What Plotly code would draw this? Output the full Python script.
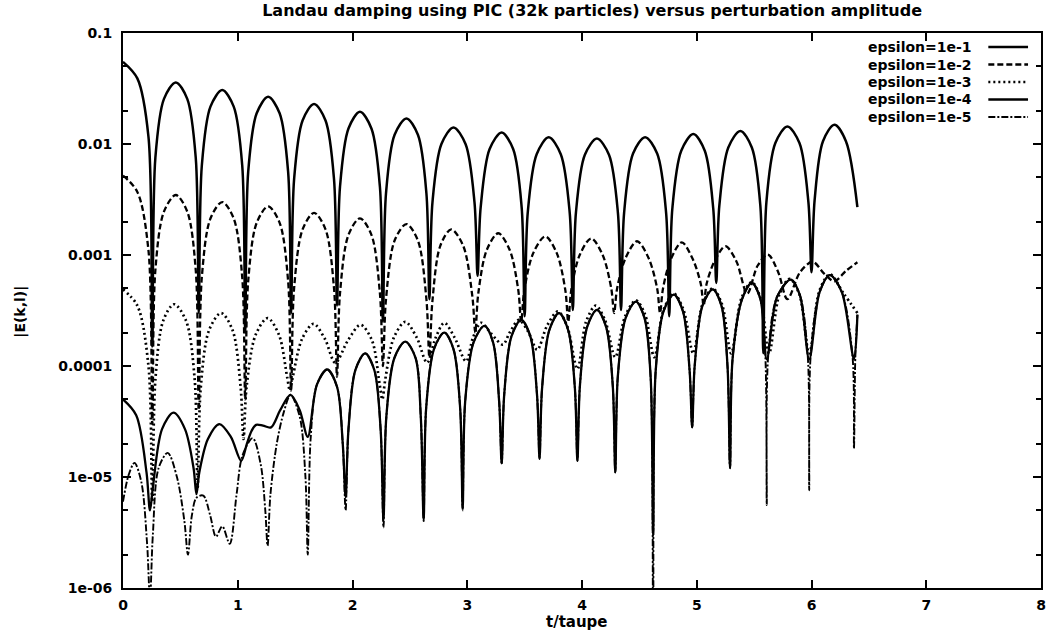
import plotly.graph_objects as go

# ---- |E(k,l)| versus t/taupe for each perturbation amplitude ----

# epsilon = 1e-1
t_e1 = [0.00, 0.125, 0.222, 0.255,
        0.282, 0.357, 0.46, 0.56, 0.634, 0.66,
        0.687, 0.762, 0.865, 0.965, 1.039, 1.065,
        1.091, 1.165, 1.265, 1.365, 1.439, 1.465,
        1.491, 1.565, 1.665, 1.765, 1.839, 1.865,
        1.891, 1.965, 2.065, 2.165, 2.239, 2.265,
        2.292, 2.367, 2.47, 2.57, 2.644, 2.67,
        2.697, 2.775, 2.88, 2.985, 3.063, 3.09,
        3.117, 3.195, 3.30, 3.40, 3.474, 3.50,
        3.527, 3.605, 3.71, 3.815, 3.893, 3.92,
        3.947, 4.025, 4.13, 4.235, 4.313, 4.34,
        4.367, 4.445, 4.55, 4.655, 4.733, 4.76,
        4.787, 4.865, 4.97, 5.07, 5.144, 5.17,
        5.197, 5.275, 5.38, 5.48, 5.554, 5.58,
        5.607, 5.685, 5.79, 5.895, 5.973, 6.00,
        6.027, 6.10, 6.20, 6.30, 6.40]
e_e1 = [0.055, 0.039, 0.0116, 1.5e-4,
        0.0075, 0.0255, 0.0359, 0.0255, 0.0075, 3e-4,
        0.0064, 0.0217, 0.0306, 0.0217, 0.0064, 2e-4,
        0.0056, 0.0189, 0.0266, 0.0189, 0.0056, 3e-4,
        0.0048, 0.0163, 0.0229, 0.0163, 0.0048, 3.5e-4,
        0.0041, 0.0138, 0.0195, 0.0138, 0.0041, 2.5e-4,
        0.0036, 0.0121, 0.017, 0.0121, 0.0036, 4e-4,
        0.0030, 0.0100, 0.0141, 0.0100, 0.0030, 6.5e-4,
        0.0027, 0.0090, 0.0127, 0.0090, 0.0027, 2.8e-4,
        0.0024, 0.0081, 0.0115, 0.0081, 0.0024, 3.2e-4,
        0.0024, 0.0080, 0.0112, 0.0080, 0.0024, 3.2e-4,
        0.0024, 0.0082, 0.0115, 0.0082, 0.0024, 2.8e-4,
        0.0026, 0.0087, 0.0123, 0.0087, 0.0026, 5.6e-4,
        0.0028, 0.0093, 0.0131, 0.0093, 0.0028, 1.3e-4,
        0.0030, 0.0102, 0.0144, 0.0102, 0.0030, 7e-4,
        0.0031, 0.0106, 0.0149, 0.0106, 0.0027]

# epsilon = 1e-2
t_e2 = [0.00, 0.125, 0.222, 0.255,
        0.282, 0.357, 0.46, 0.56, 0.634, 0.66,
        0.687, 0.762, 0.865, 0.965, 1.039, 1.065,
        1.091, 1.165, 1.265, 1.365, 1.439, 1.465,
        1.491, 1.565, 1.665, 1.765, 1.839, 1.865,
        1.891, 1.965, 2.065, 2.165, 2.239, 2.265,
        2.292, 2.367, 2.47, 2.57, 2.644, 2.67,
        2.696, 2.765, 2.86, 2.965, 3.045, 3.07,
        3.096, 3.17, 3.27, 3.37, 3.445, 3.47,
        3.497, 3.575, 3.68, 3.78, 3.855, 3.88,
        3.906, 3.98, 4.08, 4.18, 4.255, 4.28,
        4.306, 4.38, 4.48, 4.58, 4.655, 4.68,
        4.706, 4.775, 4.87, 4.965, 5.035, 5.06,
        5.086, 5.155, 5.25, 5.345, 5.44,
        5.53, 5.62, 5.71, 5.79,
        5.90, 6.01, 6.11, 6.20,
        6.30, 6.40]
e_e2 = [0.0052, 0.0037, 0.0011, 3e-5,
        7.3e-4, 0.00246, 0.00347, 0.00246, 7.3e-4, 4e-5,
        6.3e-4, 0.00213, 0.0030, 0.00213, 6.3e-4, 5e-5,
        5.8e-4, 0.00195, 0.00274, 0.00195, 5.8e-4, 6e-5,
        5.0e-4, 0.0017, 0.0024, 0.0017, 5.0e-4, 8e-5,
        4.5e-4, 0.00152, 0.00214, 0.00152, 4.5e-4, 1e-4,
        4.0e-4, 0.00135, 0.0019, 0.00135, 4.0e-4, 1.2e-4,
        3.8e-4, 0.00121, 0.0017, 0.00121, 4.2e-4, 2e-4,
        4.5e-4, 0.00111, 0.00157, 0.00111, 4.8e-4, 2.5e-4,
        4.8e-4, 0.00104, 0.00147, 0.00104, 4.8e-4, 2.5e-4,
        4.8e-4, 0.0010, 0.00141, 0.0010, 5.0e-4, 3e-4,
        5.0e-4, 9.4e-4, 0.00133, 9.4e-4, 5.0e-4, 3e-4,
        5.0e-4, 9.2e-4, 0.0013, 9.2e-4, 5.5e-4, 3.5e-4,
        5.5e-4, 8.8e-4, 0.0012, 8.8e-4, 4.5e-4,
        8.0e-4, 0.00101, 7.0e-4, 4.0e-4,
        7.0e-4, 8.7e-4, 6.8e-4, 5.8e-4,
        7.2e-4, 8.6e-4]

# epsilon = 1e-3
t_e3 = [0.00, 0.125, 0.222, 0.255,
        0.282, 0.35, 0.445, 0.55, 0.625, 0.65,
        0.677, 0.75, 0.855, 0.955, 1.025, 1.05,
        1.077, 1.155, 1.26, 1.36, 1.43, 1.455,
        1.48, 1.56, 1.66, 1.76, 1.85,
        1.96, 2.07, 2.17, 2.235, 2.26,
        2.285, 2.36, 2.46, 2.56, 2.65,
        2.725, 2.80, 2.89, 2.99,
        3.05, 3.12, 3.21, 3.31,
        3.37, 3.45, 3.53, 3.61,
        3.695, 3.79, 3.87, 3.96,
        4.035, 4.12, 4.20, 4.29,
        4.375, 4.47, 4.55, 4.63,
        4.71, 4.80, 4.885, 4.97,
        5.05, 5.14, 5.22, 5.30,
        5.39, 5.48, 5.555, 5.63,
        5.72, 5.81, 5.895, 5.98,
        6.07, 6.16, 6.28, 6.40]
e_e3 = [4.9e-4, 3.5e-4, 1.0e-4, 6e-6,
        7.5e-5, 2.55e-4, 3.6e-4, 2.55e-4, 7.5e-5, 8e-6,
        6.3e-5, 2.1e-4, 3.0e-4, 2.1e-4, 6.5e-5, 2.2e-5,
        6.5e-5, 1.9e-4, 2.7e-4, 1.9e-4, 8e-5, 6e-5,
        8e-5, 1.75e-4, 2.4e-4, 1.75e-4, 1.07e-4,
        1.7e-4, 2.35e-4, 1.7e-4, 7e-5, 5e-5,
        7.5e-5, 1.8e-4, 2.5e-4, 1.8e-4, 1.07e-4,
        1.8e-4, 2.45e-4, 1.8e-4, 1.1e-4,
        1.8e-4, 2.45e-4, 1.95e-4, 1.56e-4,
        2.0e-4, 2.6e-4, 2.05e-4, 1.4e-4,
        2.3e-4, 3.1e-4, 2.3e-4, 9.4e-5,
        2.5e-4, 3.5e-4, 2.6e-4, 1.2e-4,
        2.8e-4, 3.9e-4, 2.9e-4, 1.2e-4,
        3.2e-4, 4.5e-4, 3.2e-4, 1.3e-4,
        3.6e-4, 5.0e-4, 3.6e-4, 1.3e-4,
        4.1e-4, 5.7e-4, 4.1e-4, 1.3e-4,
        4.4e-4, 6.1e-4, 4.4e-4, 1.3e-4,
        4.8e-4, 6.7e-4, 4.5e-4, 3.0e-4]

# epsilon = 1e-4
t_e4 = [0.00, 0.115, 0.205, 0.235,
        0.26, 0.34, 0.44, 0.54, 0.615, 0.64,
        0.665, 0.74, 0.84, 0.94, 1.03,
        1.08, 1.12, 1.16, 1.22, 1.29, 1.37, 1.46,
        1.54, 1.61,
        1.69, 1.78, 1.865, 1.915, 1.94,
        1.965, 2.025, 2.11, 2.19, 2.245, 2.27,
        2.295, 2.365, 2.46, 2.55, 2.595, 2.62,
        2.642, 2.71, 2.80, 2.88, 2.938, 2.96,
        2.982, 3.055, 3.15, 3.225, 3.278, 3.30,
        3.322, 3.385, 3.47, 3.55, 3.608, 3.63,
        3.652, 3.715, 3.80, 3.88, 3.938, 3.96,
        3.982, 4.045, 4.13, 4.21, 4.268, 4.29,
        4.312, 4.38, 4.47, 4.545, 4.598, 4.62,
        4.642, 4.71, 4.80, 4.88, 4.938, 4.96,
        4.982, 5.05, 5.14, 5.215, 5.268, 5.29,
        5.312, 5.395, 5.48, 5.555, 5.61,
        5.70, 5.82, 5.90, 5.98,
        6.07, 6.16, 6.265, 6.37,
        6.40]
e_e4 = [5.0e-5, 3.6e-5, 1.1e-5, 5e-6,
        8e-6, 2.7e-5, 3.8e-5, 2.7e-5, 1.2e-5, 7e-6,
        1.1e-5, 2.2e-5, 3.0e-5, 2.3e-5, 1.4e-5,
        2.0e-5, 2.6e-5, 2.95e-5, 2.9e-5, 2.8e-5, 4.0e-5, 5.5e-5,
        4.0e-5, 2.3e-5,
        6.8e-5, 9.3e-5, 6.5e-5, 2.0e-5, 6.6e-6,
        2.7e-5, 9.2e-5, 1.3e-4, 9.2e-5, 2.7e-5, 4.1e-6,
        3.5e-5, 1.18e-4, 1.66e-4, 1.18e-4, 3.5e-5, 4.1e-6,
        4.2e-5, 1.42e-4, 2.0e-4, 1.42e-4, 4.2e-5, 5.2e-6,
        4.8e-5, 1.63e-4, 2.3e-4, 1.63e-4, 4.8e-5, 1.33e-5,
        5.5e-5, 1.85e-4, 2.6e-4, 1.85e-4, 5.5e-5, 1.48e-5,
        6.3e-5, 2.1e-4, 3.0e-4, 2.1e-4, 6.3e-5, 1.4e-5,
        6.7e-5, 2.25e-4, 3.2e-4, 2.25e-4, 6.7e-5, 1.1e-5,
        8e-5, 2.7e-4, 3.8e-4, 2.7e-4, 8e-5, 3e-6,
        9e-5, 3.1e-4, 4.4e-4, 3.1e-4, 9e-5, 2.8e-5,
        1.0e-4, 3.5e-4, 4.9e-4, 3.5e-4, 1.0e-4, 1.2e-5,
        1.15e-4, 4.0e-4, 5.6e-4, 4.0e-4, 1.15e-4,
        4.2e-4, 6.0e-4, 4.3e-4, 1.15e-4,
        4.6e-4, 6.6e-4, 4.6e-4, 1.15e-4,
        2.9e-4]

# epsilon = 1e-5
t_e5 = [0.00, 0.05, 0.10, 0.16, 0.21, 0.235,
        0.26, 0.31, 0.39, 0.47, 0.535, 0.566,
        0.60, 0.64, 0.70, 0.76, 0.81, 0.865, 0.93,
        0.99, 1.04, 1.13, 1.20, 1.24, 1.26,
        1.285, 1.34, 1.40, 1.46,
        1.54, 1.59, 1.61,
        1.635, 1.69, 1.78, 1.865, 1.915, 1.94,
        1.965, 2.025, 2.11, 2.19, 2.245, 2.27,
        2.295, 2.365, 2.46, 2.55, 2.595, 2.62,
        2.642, 2.71, 2.80, 2.88, 2.938, 2.96,
        2.982, 3.055, 3.15, 3.225, 3.278, 3.30,
        3.322, 3.385, 3.47, 3.55, 3.608, 3.63,
        3.652, 3.715, 3.80, 3.88, 3.938, 3.96,
        3.982, 4.045, 4.13, 4.21, 4.268, 4.29,
        4.312, 4.38, 4.47, 4.545, 4.598, 4.62,
        4.642, 4.71, 4.80, 4.88, 4.938, 4.96,
        4.982, 5.05, 5.14, 5.215, 5.268, 5.29,
        5.312, 5.395, 5.48, 5.555, 5.598, 5.61,
        5.622, 5.70, 5.82, 5.90, 5.968, 5.98,
        5.992, 6.07, 6.16, 6.265, 6.358, 6.37,
        6.382, 6.40]
e_e5 = [6e-6, 1.05e-5, 1.34e-5, 9e-6, 2.5e-6, 8e-7,
        3e-6, 1.2e-5, 1.65e-5, 1.0e-5, 4e-6, 2e-6,
        4.5e-6, 6.5e-6, 6.8e-6, 4.5e-6, 2.9e-6, 3.6e-6, 2.5e-6,
        7e-6, 1.55e-5, 2.24e-5, 1.3e-5, 5e-6, 2.4e-6,
        7e-6, 2.0e-5, 3.8e-5, 5.5e-5,
        3.5e-5, 1.0e-5, 2e-6,
        2.2e-5, 6.8e-5, 9.3e-5, 6.5e-5, 2.0e-5, 5e-6,
        2.7e-5, 9.2e-5, 1.3e-4, 9.2e-5, 2.7e-5, 3.5e-6,
        3.5e-5, 1.18e-4, 1.66e-4, 1.18e-4, 3.5e-5, 4e-6,
        4.2e-5, 1.42e-4, 2.0e-4, 1.42e-4, 4.2e-5, 5e-6,
        4.8e-5, 1.63e-4, 2.3e-4, 1.63e-4, 4.8e-5, 1.3e-5,
        5.5e-5, 1.85e-4, 2.6e-4, 1.85e-4, 5.5e-5, 1.45e-5,
        6.3e-5, 2.1e-4, 3.0e-4, 2.1e-4, 6.3e-5, 1.4e-5,
        6.7e-5, 2.25e-4, 3.2e-4, 2.25e-4, 6.7e-5, 1.1e-5,
        8e-5, 2.7e-4, 3.8e-4, 2.7e-4, 8e-5, 5e-7,
        9e-5, 3.1e-4, 4.4e-4, 3.1e-4, 9e-5, 2.8e-5,
        1.0e-4, 3.5e-4, 4.9e-4, 3.5e-4, 1.0e-4, 1.2e-5,
        1.15e-4, 4.0e-4, 5.6e-4, 4.0e-4, 1.2e-4, 5.6e-6,
        1.2e-4, 4.2e-4, 6.0e-4, 4.3e-4, 1.2e-4, 7.6e-6,
        1.2e-4, 4.6e-4, 6.6e-4, 4.6e-4, 1.2e-4, 1.8e-5,
        1.2e-4, 2.9e-4]

series_names = ["epsilon=1e-1", "epsilon=1e-2", "epsilon=1e-3",
                "epsilon=1e-4", "epsilon=1e-5"]
series_t = [t_e1, t_e2, t_e3, t_e4, t_e5]
series_e = [e_e1, e_e2, e_e3, e_e4, e_e5]

x_ticks = [0, 1, 2, 3, 4, 5, 6, 7, 8]
y_ticks = [1e-6, 1e-5, 1e-4, 1e-3, 1e-2, 1e-1]
y_tick_text = ["1e-06", "1e-05", "0.0001", "0.001", "0.01", "0.1"]
y_minor = [2e-6, 5e-6, 2e-5, 5e-5, 2e-4, 5e-4, 2e-3, 5e-3, 2e-2, 5e-2]

# line styles (gnuplot-like): solid, dashed, dotted, solid, dash-dot
styles = [
    dict(color="black", width=2.5, dash="solid"),
    dict(color="black", width=2.3, dash="6px,3px"),
    dict(color="black", width=2.7, dash="2px,3px"),
    dict(color="black", width=2.3, dash="solid"),
    dict(color="black", width=1.9, dash="7px,2px,2px,2px"),
]

FONT = "DejaVu Sans"

fig = go.Figure()
for i in [4, 3, 2, 1, 0]:
    fig.add_trace(go.Scatter(
        x=series_t[i], y=series_e[i], mode="lines", name=series_names[i],
        line=dict(shape="spline", smoothing=0.9, **styles[i]),
        showlegend=False,
    ))

# legend in the upper right: label then line sample
legend_rows = [0.9748, 0.9432, 0.9117, 0.8802, 0.8486]
for name, style, yy in zip(series_names, styles, legend_rows):
    fig.add_annotation(x=7.419, y=yy, xref="x", yref="paper",
                       text="<b>%s</b>" % name, showarrow=False,
                       xanchor="right", yanchor="middle",
                       font=dict(family=FONT, size=14, color="black"))
    fig.add_shape(type="line", xref="x", yref="paper",
                  x0=7.541, x1=7.887, y0=yy, y1=yy,
                  line=dict(color="black", width=style["width"], dash=style["dash"]))

# axis titles
fig.add_annotation(x=0.495, y=-0.0613, xref="paper", yref="paper",
                   text="<b>t/taupe</b>", showarrow=False,
                   xanchor="center", yanchor="middle",
                   font=dict(family=FONT, size=15, color="black"))
fig.add_annotation(x=-0.1116, y=0.497, xref="paper", yref="paper",
                   text="<b>|E(k,l)|</b>", showarrow=False, textangle=-90,
                   xanchor="center", yanchor="middle",
                   font=dict(family=FONT, size=14, color="black"))

fig.update_layout(
    width=1053, height=636,
    margin=dict(l=123, r=7, t=33, b=48),
    paper_bgcolor="white", plot_bgcolor="white",
    showlegend=False,
    font=dict(family=FONT, color="black"),
    title=dict(text="<b>Landau damping using PIC (32k particles) versus perturbation amplitude</b>",
               x=0.511, xref="paper", xanchor="center",
               y=0.983, yref="container", yanchor="middle",
               font=dict(family=FONT, size=16, color="black")),
)

fig.update_xaxes(
    range=[0, 8], tickmode="array", tickvals=x_ticks,
    ticktext=[str(v) for v in x_ticks],
    showgrid=False, zeroline=False,
    showline=True, linewidth=2, linecolor="black", mirror="ticks",
    ticks="inside", ticklen=8, tickwidth=1.5, tickcolor="black",
    ticklabelstandoff=3,
    tickfont=dict(family=FONT, size=14, color="black", weight="bold"),
)
fig.update_yaxes(
    type="log", range=[-6, -1], tickmode="array", tickvals=y_ticks,
    ticktext=y_tick_text,
    showgrid=False, zeroline=False,
    showline=True, linewidth=2, linecolor="black", mirror="ticks",
    ticks="inside", ticklen=8, tickwidth=1.5, tickcolor="black",
    ticklabelstandoff=6,
    tickfont=dict(family=FONT, size=14, color="black", weight="bold"),
    minor=dict(tickmode="array", tickvals=y_minor, ticks="inside",
               ticklen=5, tickwidth=1.5, tickcolor="black"),
)

fig.write_html("out.html")
